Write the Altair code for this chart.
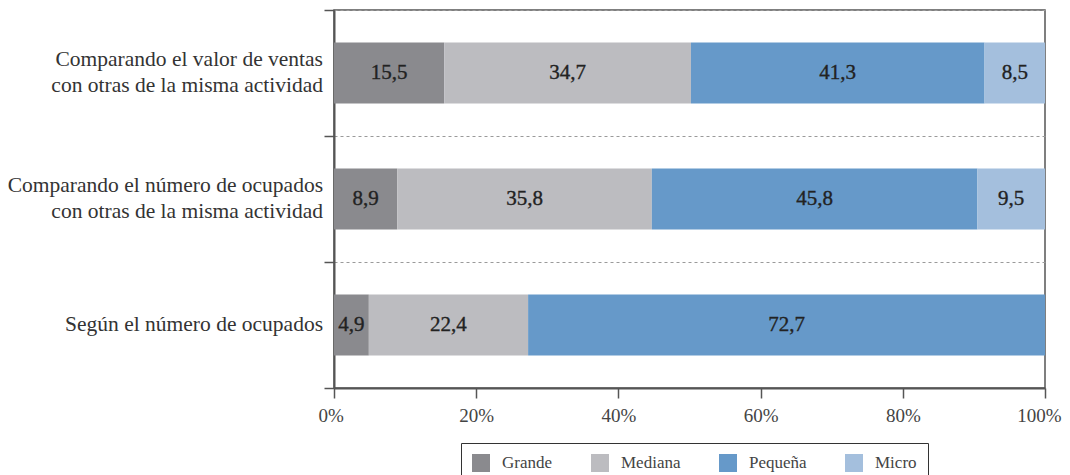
import altair as alt
import pandas as pd

categories = [
    "Comparando el valor de ventas|con otras de la misma actividad",
    "Comparando el número de ocupados|con otras de la misma actividad",
    "Según el número de ocupados",
]
sizes = ["Grande", "Mediana", "Pequeña", "Micro"]
colors = ["#8a8a8e", "#bcbcc0", "#6699c9", "#a4bfdd"]

grande = [15.5, 8.9, 4.9]
mediana = [34.7, 35.8, 22.4]
pequena = [41.3, 45.8, 72.7]
micro = [8.5, 9.5, 0.0]

rows = []
for i, cat in enumerate(categories):
    for j, (s, vals) in enumerate(zip(sizes, [grande, mediana, pequena, micro])):
        v = vals[i]
        if v <= 0:
            continue
        rows.append({
            "cat": cat,
            "size": s,
            "ord": j,
            "value": v,
            "label": f"{v:.1f}".replace(".", ","),
        })
df = pd.DataFrame(rows)
cat_df = pd.DataFrame({"cat": categories})

FONT = "Liberation Serif"

y_axis = alt.Axis(
    tickBand="extent",
    grid=True,
    gridDash=[3, 3],
    gridColor="#9a9a9a",
    gridWidth=1.2,
    tickSize=10,
    tickColor="#555555",
    tickWidth=1.5,
    domainColor="#555555",
    domainWidth=2,
    labels=False,
)

y_enc = alt.Y(
    "cat:N",
    sort=categories,
    title=None,
    scale=alt.Scale(paddingInner=0, paddingOuter=0),
    axis=y_axis,
)

base = alt.Chart(df)

bars = base.mark_bar(height={"band": 0.485}).encode(
    x=alt.X(
        "value:Q",
        stack="zero",
        title=None,
        scale=alt.Scale(domain=[0, 100]),
        axis=alt.Axis(
            values=[0, 20, 40, 60, 80, 100],
            labelExpr="datum.value + '%'",
            grid=False,
            tickSize=10,
            tickColor="#555555",
            tickWidth=1.5,
            domainColor="#555555",
            domainWidth=2,
            labelFont=FONT,
            labelFontSize=19,
            labelColor="#444444",
            labelPadding=8,
            labelFlush=True,
            labelFlushOffset=16,
        ),
    ),
    y=y_enc,
    color=alt.Color(
        "size:N",
        sort=sizes,
        scale=alt.Scale(domain=sizes, range=colors),
        legend=alt.Legend(
            title=None,
            orient="none",
            legendX=127,
            legendY=433,
            direction="horizontal",
            columns=4,
            symbolType="square",
            symbolSize=324,
            symbolStrokeWidth=0,
            symbolOpacity=1,
            labelFont=FONT,
            labelFontSize=17,
            labelColor="#444444",
            labelOffset=12,
            columnPadding=38,
            padding=11,
            strokeColor="#333333",
        ),
    ),
    order=alt.Order("ord:Q"),
)

texts = base.transform_stack(
    stack="value",
    groupby=["cat"],
    as_=["x0", "x1"],
    sort=[alt.SortField("ord", order="ascending")],
).transform_calculate(
    mid="(datum.x0 + datum.x1) / 2"
).mark_text(
    font=FONT, fontSize=21, color="#222222", stroke="#222222", strokeWidth=0.35,
    baseline="middle", align="center"
).encode(
    x=alt.X("mid:Q"),
    y=alt.Y("cat:N", sort=categories),
    text="label:N",
)

label_style = dict(
    font=FONT, fontSize=21.5, color="#333333", align="right", baseline="middle",
    lineBreak="|", lineHeight=26,
)
label_enc = dict(
    y=alt.Y("cat:N", sort=categories),
    x=alt.value(-11),
    text="cat:N",
)
ylabels_two = alt.Chart(cat_df).transform_filter(
    "indexof(datum.cat, '|') >= 0"
).mark_text(dy=-13, **label_style).encode(**label_enc)
ylabels_one = alt.Chart(cat_df).transform_filter(
    "indexof(datum.cat, '|') < 0"
).mark_text(**label_style).encode(**label_enc)

chart = (
    alt.layer(bars, texts, ylabels_two, ylabels_one)
    .properties(
        width=711,
        height=378,
        autosize=alt.AutoSizeParams(type="none"),
        padding={"left": 326, "top": 2, "right": 17, "bottom": 87},
    )
    .configure_view(stroke="#555555", strokeWidth=1.5)
)

chart.save("out.html", embed_options={"renderer": "svg", "actions": False})
